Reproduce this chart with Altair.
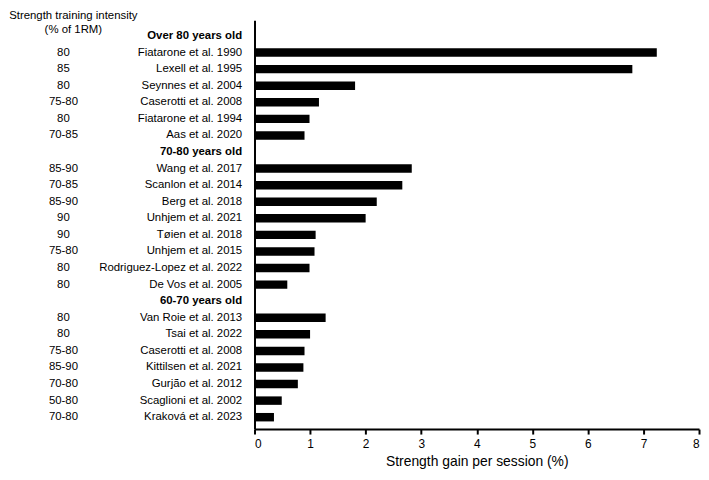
import json
import altair as alt
import pandas as pd

studies = [
    "Over 80 years old",
    "Fiatarone et al. 1990", "Lexell et al. 1995", "Seynnes et al. 2004",
    "Caserotti et al. 2008", "Fiatarone et al. 1994", "Aas et al. 2020",
    "70-80 years old",
    "Wang et al. 2017", "Scanlon et al. 2014", "Berg et al. 2018",
    "Unhjem et al. 2021", "Tøien et al. 2018", "Unhjem et al. 2015",
    "Rodriguez-Lopez et al. 2022", "De Vos et al. 2005",
    "60-70 years old",
    "Van Roie et al. 2013", "Tsai et al. 2022", "Caserotti et al. 2008",
    "Kittilsen et al. 2021", "Gurjão et al. 2012", "Scaglioni et al. 2002",
    "Kraková et al. 2023",
]
intensity = [
    "",
    "80", "85", "80", "75-80", "80", "70-85",
    "",
    "85-90", "70-85", "85-90", "90", "90", "75-80", "80", "80",
    "",
    "80", "80", "75-80", "85-90", "70-80", "50-80", "70-80",
]
gain = [
    None,
    7.24, 6.80, 1.81, 1.16, 0.99, 0.90,
    None,
    2.83, 2.66, 2.20, 2.00, 1.10, 1.08, 0.99, 0.59,
    None,
    1.28, 1.00, 0.90, 0.88, 0.78, 0.49, 0.35,
]
header_rows = [0, 7, 16]
x_ticks = [0, 1, 2, 3, 4, 5, 6, 7, 8]

rows = list(range(len(studies)))
df = pd.DataFrame({"row": rows, "study": studies, "intensity": intensity, "gain": gain})

label_expr = json.dumps(studies, ensure_ascii=False) + "[datum.value]"
bold_expr = "indexof(" + json.dumps(header_rows) + ", datum.value) >= 0 ? 'bold' : 'normal'"

y_scale = alt.Scale(domain=rows, paddingInner=0.49, paddingOuter=0.58, align=0.6)

y_axis = alt.Axis(
    title=None, labelExpr=label_expr, labelFontWeight=alt.ExprRef(expr=bold_expr),
    ticks=False, labelPadding=13, labelFontSize=11.5, labelColor="black",
    domainColor="black", domainWidth=2, labelLimit=300,
)
x_axis = alt.Axis(
    title="Strength gain per session (%)", values=x_ticks, grid=False,
    domainColor="black", domainWidth=2, tickColor="black", tickWidth=2, tickSize=5,
    labelFontSize=12, labelColor="black", labelPadding=5,
    titleFontSize=14, titleFontWeight="normal", titleColor="black", titlePadding=5,
)

base = alt.Chart(df)
bars = base.transform_filter("isValid(datum.gain)").mark_bar(color="black").encode(
    x=alt.X("gain:Q", scale=alt.Scale(domain=[0, 8], nice=False), axis=x_axis),
    y=alt.Y("row:O", scale=y_scale, axis=y_axis),
)
texts = base.mark_text(align="center", baseline="middle", fontSize=11.5, color="black").encode(
    y=alt.Y("row:O", scale=y_scale, axis=y_axis),
    x=alt.value(-193),
    text="intensity:N",
)
header = alt.Chart(pd.DataFrame({"t": [0]})).mark_text(
    align="center", baseline="top", fontSize=11.5, lineHeight=14, color="black",
    text=["Strength training intensity", "(% of 1RM)"],
).encode(x=alt.value(-183), y=alt.value(-10))

chart = alt.layer(bars, texts, header).properties(
    width=449, height=413,
    autosize=alt.AutoSizeParams(type="none"),
    padding={"left": 249, "top": 10, "right": 2, "bottom": 45},
).configure(font="Liberation Sans").configure_view(stroke=None)

chart.save("out.html", embed_options={"renderer": "svg", "actions": False})
